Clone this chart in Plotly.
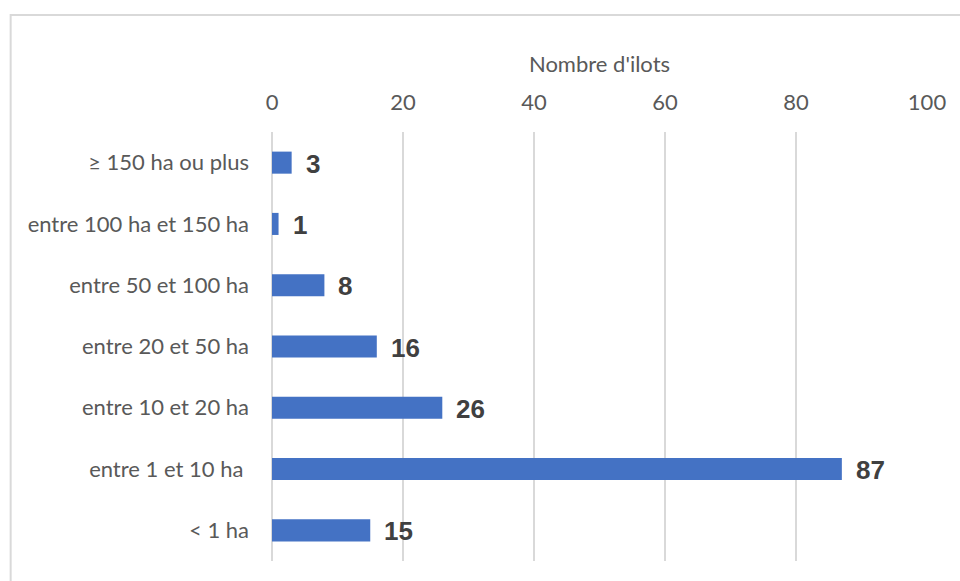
import plotly.graph_objects as go

# Surface class of the islets, from bottom to top of the chart
categories = [
    "< 1 ha",
    "entre 1 et 10 ha ",
    "entre 10 et 20 ha",
    "entre 20 et 50 ha",
    "entre 50 et 100 ha",
    "entre 100 ha et 150 ha",
    "≥ 150 ha ou plus",
]
counts = [15, 87, 26, 16, 8, 1, 3]
x_ticks = [0, 20, 40, 60, 80, 100]

BAR = "#4472C4"
GRID = "#D9D9D9"
TEXT = "#595959"
LABEL = "#404040"

fig = go.Figure()
fig.add_trace(go.Bar(
    y=categories,
    x=counts,
    orientation="h",
    marker=dict(color=BAR, line=dict(width=0)),
    width=0.36,
    hoverinfo="skip",
))

# value labels next to each bar
for cat, v in zip(categories, counts):
    fig.add_annotation(
        x=v, y=cat, text=f"<b>{v}</b>", showarrow=False,
        xanchor="left", yanchor="middle", xshift=12, yshift=-1,
        font=dict(family="Liberation Sans, Arial", size=26, color=LABEL),
    )

# chart frame
fig.add_shape(
    type="rect", xref="paper", yref="paper",
    x0=-0.399, x1=1.2, y0=-0.2, y1=1.273,
    line=dict(color=GRID, width=2), fillcolor="rgba(0,0,0,0)", layer="below",
)

fig.update_layout(
    width=960, height=581,
    margin=dict(l=272, r=33, t=132, b=20),
    paper_bgcolor="white", plot_bgcolor="white",
    showlegend=False,
    font=dict(family="Lato, Open Sans, sans-serif", size=22, color=TEXT),
    xaxis=dict(
        side="top", range=[0, 100], tickvals=x_ticks,
        showgrid=True, gridcolor=GRID, gridwidth=1.5,
        zeroline=True, zerolinecolor=GRID, zerolinewidth=1.5,
        showline=False, ticks="",
        ticklabelstandoff=17,
        tickfont=dict(size=22, color=TEXT),
        title=dict(text="Nombre d'ilots", font=dict(size=22, color=TEXT), standoff=8),
        fixedrange=True,
    ),
    yaxis=dict(
        categoryorder="array", categoryarray=categories,
        range=[-0.5, len(categories) - 0.5],
        showgrid=False, zeroline=False, showline=False, ticks="",
        ticklabelstandoff=22,
        tickfont=dict(size=22, color=TEXT),
        fixedrange=True,
    ),
    bargap=0.64,
)

fig.write_html("out.html")
